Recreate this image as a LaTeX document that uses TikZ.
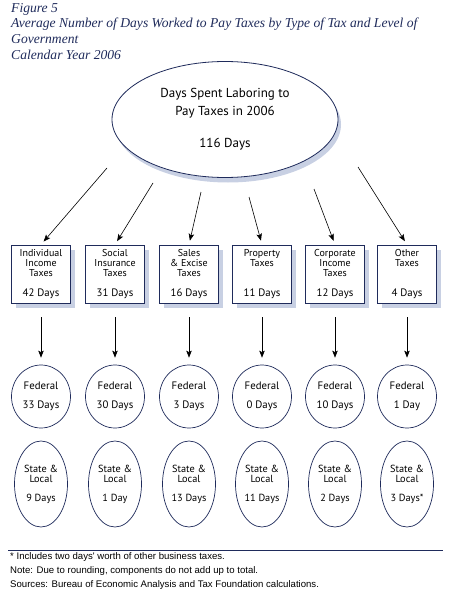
\documentclass[tikz,border=0pt]{standalone}
\usepackage{fontspec}
\setmainfont{Liberation Serif}
\setsansfont{PT Sans}
\newfontfamily\notefont{Liberation Sans}
\usepackage{xcolor}
\usetikzlibrary{arrows.meta, shapes.geometric, shadows}

\definecolor{navy}{HTML}{1F2B5B}
\definecolor{shade}{HTML}{C8D0E3}

% box text: label on top, days at the bottom
\newcommand{\taxtext}[2]{\parbox[c][50pt][t]{56pt}{\centering #1\par\vfill
  {\fontsize{10.8}{12}\selectfont #2}}}

\begin{document}
\begin{tikzpicture}[
  x=1pt, y=-1pt,
  every node/.style={font=\sffamily},
  taxbox/.style={draw=navy, line width=0.8pt, fill=white,
                 minimum width=59pt, minimum height=58pt, inner sep=0pt,
                 font=\sffamily\fontsize{10}{10}\selectfont,
                 drop shadow={shadow xshift=4pt, shadow yshift=-5pt,
                              fill=shade, opacity=1}},
  fedell/.style={ellipse, draw=navy, line width=0.7pt, fill=white,
                 minimum width=59pt, minimum height=63pt, inner sep=0pt,
                 align=center, font=\sffamily\fontsize{10.8}{12}\selectfont},
  slell/.style={ellipse, draw=navy, line width=0.7pt, fill=white,
                minimum width=53pt, minimum height=86pt, inner sep=0pt,
                align=center, font=\sffamily\fontsize{10.3}{10}\selectfont},
  arr/.style={-{Stealth[length=7pt,width=5.5pt,inset=1.5pt]},
              line width=0.6pt, draw=black},
]
\useasboundingbox (0,0) rectangle (450,599);

% --- column x-coordinates ---
\def\xA{41}
\def\xB{115}
\def\xC{189}
\def\xD{262}
\def\xE{335}
\def\xF{407}
% --- row y-coordinates ---
\def\yB{274}
\def\yF{396.5}
\def\yS{484}

% --- title ---
\node[anchor=north west, align=left, inner sep=0pt, text=navy,
      font=\itshape\fontsize{13.6}{15.6}\selectfont] (title) at (11,3)
  {Figure 5\\
   Average Number of Days Worked to Pay Taxes by Type of Tax and Level of\\
   Government\\
   Calendar Year 2006};

% --- total ---
\node[ellipse, draw=navy, line width=0.8pt, fill=white,
      minimum width=226pt, minimum height=116pt, inner sep=0pt, align=center,
      font=\sffamily\fontsize{13}{18}\selectfont,
      drop shadow={shadow xshift=3pt, shadow yshift=-5pt, fill=shade, opacity=1}]
  (total) at (225,119.5)
  {Days Spent Laboring to\\Pay Taxes in 2006\\[14pt]116 Days};

% =========================================================
% Type of tax
% =========================================================
\node[taxbox] (iit) at (\xA,\yB) {\taxtext{Individual\\Income\\Taxes}{42 Days}};
\node[taxbox] (sit) at (\xB,\yB) {\taxtext{Social\\Insurance\\Taxes}{31 Days}};
\node[taxbox] (set) at (\xC,\yB) {\taxtext{Sales\\\& Excise\\Taxes}{16 Days}};
\node[taxbox] (prt) at (\xD,\yB) {\taxtext{Property\\Taxes}{11 Days}};
\node[taxbox] (cit) at (\xE,\yB) {\taxtext{Corporate\\Income\\Taxes}{12 Days}};
\node[taxbox] (oth) at (\xF,\yB) {\taxtext{Other\\Taxes}{4 Days}};

% --- arrow starts below the total ---
\coordinate (s1) at (107,168);
\coordinate (s2) at (153,183);
\coordinate (s3) at (201,192);
\coordinate (s4) at (249,197);
\coordinate (s5) at (314,189);
\coordinate (s6) at (358,167);

\draw[arr, shorten >=4pt] (s1) -- (iit.north);
\draw[arr, shorten >=4pt] (s2) -- (sit.north);
\draw[arr, shorten >=4pt] (s3) -- (set.north);
\draw[arr, shorten >=4pt] (s4) -- (prt.north);
\draw[arr, shorten >=4pt] (s5) -- (cit.north);
\draw[arr, shorten >=4pt] (s6) -- (oth.north);

% =========================================================
% Federal
% =========================================================
\node[fedell] (fed1) at (\xA,\yF) {Federal\\[7pt]33 Days};
\node[fedell] (fed2) at (\xB,\yF) {Federal\\[7pt]30 Days};
\node[fedell] (fed3) at (\xC,\yF) {Federal\\[7pt]3 Days};
\node[fedell] (fed4) at (\xD,\yF) {Federal\\[7pt]0 Days};
\node[fedell] (fed5) at (\xE,\yF) {Federal\\[7pt]10 Days};
\node[fedell] (fed6) at (\xF,\yF) {Federal\\[7pt]1 Day};

\draw[arr, shorten <=14pt, shorten >=7pt] (iit) -- (fed1);
\draw[arr, shorten <=14pt, shorten >=7pt] (sit) -- (fed2);
\draw[arr, shorten <=14pt, shorten >=7pt] (set) -- (fed3);
\draw[arr, shorten <=14pt, shorten >=7pt] (prt) -- (fed4);
\draw[arr, shorten <=14pt, shorten >=7pt] (cit) -- (fed5);
\draw[arr, shorten <=14pt, shorten >=7pt] (oth) -- (fed6);

% =========================================================
% State & local
% =========================================================
\node[slell] (sl1) at (\xA,\yS) {State \&\\Local\\[9pt]9 Days};
\node[slell] (sl2) at (\xB,\yS) {State \&\\Local\\[9pt]1 Day};
\node[slell] (sl3) at (\xC,\yS) {State \&\\Local\\[9pt]13 Days};
\node[slell] (sl4) at (\xD,\yS) {State \&\\Local\\[9pt]11 Days};
\node[slell] (sl5) at (\xE,\yS) {State \&\\Local\\[9pt]2 Days};
\node[slell] (sl6) at (\xF,\yS) {State \&\\Local\\[9pt]3 Days*};

% --- notes ---
\draw[navy, line width=0.9pt] (8,550) -- (443,550);
\node[anchor=west, align=left, inner sep=0pt,
      font=\notefont\fontsize{9.6}{14}\selectfont] (notes) at (10,571.5)
  {* Includes two days' worth of other business taxes.\\
   Note: Due to rounding, components do not add up to total.\\
   Sources: Bureau of Economic Analysis and Tax Foundation calculations.};

\end{tikzpicture}
\end{document}
